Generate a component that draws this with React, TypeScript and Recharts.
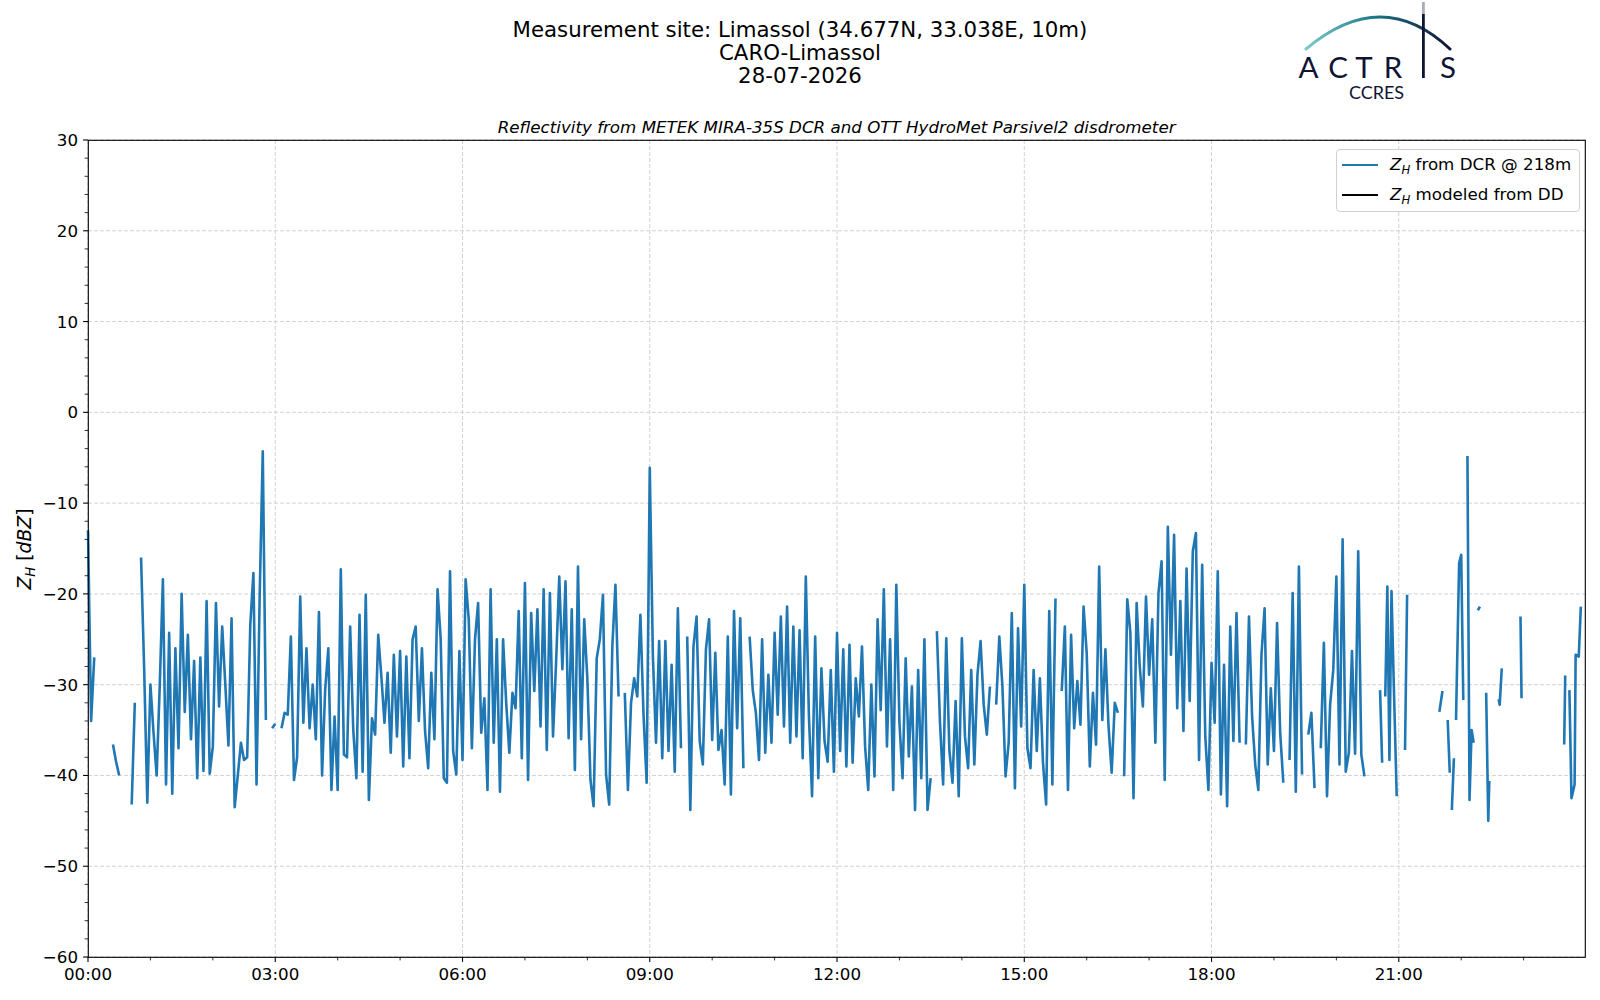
import React from 'react'
import { LineChart, Line, XAxis, YAxis, CartesianGrid } from 'recharts'

// Z_H from the DCR @ 218 m, one value every 3 minutes, null = no data.
// One array per hour of the day.
const STEP = 3
const h00 = [-13, -34, -27, null, null, null, null, null, -36.6, -38.5, -40, null, null, null, -43.2, -32, null, -16, -28.3, -43]
const h01 = [-30, -35.3, -40, -30, -18.4, -41, -24.3, -42, -26, -37, -20, -33, -24.5, -36, -27.4, -40.3, -27, -39.5, -20.8, -39.8]
const h02 = [-36.8, -21, -32.4, -23.6, -30, -36.7, -22.7, -43.5, -40, -36.4, -38.3, -38, -23.4, -17.7, -41, -20.4, -4.3, -33.9, null, -34.8]
const h03 = [-34.3, null, -34.8, -33.1, -33.3, -24.7, -40.5, -38, -20.3, -34.2, -26, -34.8, -30, -36, -22, -40, -30.5, -26, -41.6, -33.5]
const h04 = [-41.6, -17.3, -37.7, -38, -23.6, -35, -40.3, -22.3, -39.6, -20.1, -42.7, -33.7, -35.5, -24.5, -29.1, -34.2, -28.7, -37.5, -26.7, -35.7]
const h05 = [-26.3, -39, -26.9, -38.1, -25, -23.6, -34, -26, -35.1, -39.2, -28.7, -36, -19.5, -24.9, -40.3, -40.8, -17.5, -37.3, -39.9, -26.3]
const h06 = [-38.3, -18.4, -22.8, -37, -25, -21, -35.3, -31.5, -41.6, -19.5, -36.4, -25, -41.8, -25, -32, -37.5, -30.9, -32.6, -21.9, -38.1]
const h07 = [-18.8, -40.5, -22.1, -30.7, -21.7, -34.6, -19.5, -37.2, -19.9, -35.7, -27.4, -18.1, -28.3, -18.6, -35.9, -21.7, -39.4, -17, -36, -22.8]
const h08 = [-29.3, -40.5, -43.4, -27.1, -25, -20.1, -39.9, -43.2, -25.8, -19, -31.3, null, -30.9, -41.6, -32, -29.3, -31.3, -22.3, -33.3, -40.8]
const h09 = [-6.1, -26.9, -36.4, -25.2, -38.1, -25.2, -37.3, -27.8, -39.6, -21.6, -37, null, -24.7, -43.8, -25.8, -22.5, -36.2, -38.8, -26.1, -22.8]
const h10 = [-36.1, -26.5, -37.2, -35, -41, -24.7, -42.1, -21.9, -34.8, -22.7, -39.2, null, -24.7, -30.6, -33.1, -38.3, -25, -37.5, -28.9, -36.4]
const h11 = [-24.3, -33.3, -22.5, -34.6, -21.4, -36.4, -23.6, -35.7, -24, -38.1, -18.1, -33.5, -42.3, -24.7, -40.3, -28.2, -36.2, -38.5, -28.4, -39.6]
const h12 = [-24.3, -37.3, -26.1, -39, -25.6, -38.6, -29.3, -33.5, -25.8, -36.8, -41.6, -30, -40.1, -22.8, -32.8, -19.5, -36.8, -25, -41.6, -19]
const h13 = [-34.2, -40.3, -27.1, -37.9, -30.2, -43.8, -28.4, -40.3, -25, -43.8, -40.3, null, -24.1, -34.2, -41, -24.9, -37.2, -40.8, -31.8, -42.3]
const h14 = [-24.9, -35.7, -39.2, -28.4, -38.8, -28.9, -25.2, -32.2, -35.5, -30.2, null, -32.2, -24.7, -30.2, -40.1, -36.4, -22.1, -41.4, -23.8, -34.6]
const h15 = [-19, -37, -39.2, -28.4, -37.3, -29.3, -38.6, -43.2, -21.9, -41, -20.5, null, -30.7, -23.6, -41.6, -24.5, -34.8, -29.6, -34.4, -21.4]
const h16 = [-26.5, -39, -30.9, -36.6, -17, -33.9, -26.1, -34.6, -39.7, -32, -33.1, null, -40.1, -20.6, -24.3, -42.5, -21, -28, -32.4, -20.3]
const h17 = [-28.9, -22.8, -36.4, -19.9, -16.4, -40.5, -12.6, -26.7, -13.5, -32.6, -20.8, -35.1, -17.2, -31.8, -15.3, -13.3, -38.3, -16.8, -35.7, -41.6]
const h18 = [-27.6, -34.2, -17.5, -42.1, -27.8, -43.4, -23.6, -36.2, -22.1, -36.4, null, -36.6, -22.5, -33.5, -38.8, -41.6, -26.7, -21.6, -38.8, -30.4]
const h19 = [-37.3, -23.2, -35.3, -40.8, null, -38.3, -19.9, -41.8, -17, -39.9, null, -35.5, -33.1, -41.4, null, -37, -25.4, -42.3, -32.2, -28.4]
const h20 = [-18.1, -38.8, -14, -39.6, -37.5, -26.3, -37.6, -15.3, -37.7, -40.1]

// after 20:30 the record is patchy: minutes and values given one by one
const tailMinutes = [1230, 1242, 1244, 1245, 1247, 1249, 1251, 1253, 1255, 1258, 1259, 1266, 1268, 1269,
  1299, 1302, 1304, 1307, 1309, 1310, 1311, 1313, 1314, 1315, 1318, 1320, 1322, 1324,
  1326, 1328, 1330, 1332, 1334, 1336, 1338, 1340, 1344, 1346, 1347, 1349,
  1356, 1357, 1359, 1361, 1377, 1378, 1380, 1419, 1420, 1422,
  1424, 1426, 1427, 1429, 1430, 1433, 1435]
const tailZ = [null, -30.6, -38.6, null, -31.3, -19.2, -38.3, -19.7, -29.1, -42.3, null, -37.2, -20.1, null,
  -33, -30.7, null, -33.9, -39.7, null, -43.8, -38.1, null, -33.9, -16.6, -15.7, -31.7, null,
  -4.8, -42.7, -35, -36.4, null, -21.8, -21.4, null, -30.9, -45, -40.6, null,
  -31.6, -32.2, -28.2, null, -22.5, -31.5, null, -36.6, -29, null,
  -30.6, -42.5, -42, -41, -26.7, -26.9, -21.4]

const hours = [h00, h01, h02, h03, h04, h05, h06, h07, h08, h09, h10, h11, h12, h13, h14, h15, h16, h17, h18, h19, h20]

const xMajor = [0, 180, 360, 540, 720, 900, 1080, 1260]
const yMajor = [-60, -50, -40, -30, -20, -10, 0, 10, 20, 30]

type Row = { t: number; z: number | null; dd: number | null }

const data: Row[] = []
hours.forEach((vals, h) => {
  vals.forEach((z, i) => data.push({ t: h * 60 + i * STEP, z, dd: null }))
})
tailMinutes.forEach((t, i) => data.push({ t, z: tailZ[i], dd: null }))

const xTicks: number[] = []
for (let m = 0; m < 1440; m += 60) xTicks.push(m)
const yTicks: number[] = []
for (let v = -60; v <= 30; v += 2) yTicks.push(v)

const FONT = 'DejaVu Sans'
const BLUE = '#1f77b4'
const NAVY = '#0f1434'

const hhmm = (m: number) => String(Math.floor(m / 60)).padStart(2, '0') + ':00'
const num = (v: number) => (v < 0 ? '\u2212' + Math.abs(v) : String(v))

function XTick(props: any) {
  const { x, y, payload } = props
  const major = payload.value % 180 === 0
  return (
    <g>
      <line x1={x} x2={x} y1={y} y2={y + (major ? 4.9 : 3.4)} stroke="#000" strokeWidth={major ? 1.1 : 0.8} />
      {major && (
        <text x={x} y={y + 23} textAnchor="middle" fontSize={16.7} fontFamily={FONT} fill="#000">
          {hhmm(payload.value)}
        </text>
      )}
    </g>
  )
}

function YTick(props: any) {
  const { x, y, payload } = props
  const major = payload.value % 10 === 0
  return (
    <g>
      <line x1={x} x2={x - (major ? 4.9 : 3.4)} y1={y} y2={y} stroke="#000" strokeWidth={major ? 1.1 : 0.8} />
      {major && (
        <text x={x - 10} y={y} dy="0.36em" textAnchor="end" fontSize={16.7} fontFamily={FONT} fill="#000">
          {num(payload.value)}
        </text>
      )}
    </g>
  )
}

function Titles() {
  return (
    <svg width={1600} height={1000} style={{ position: 'absolute', left: 0, top: 0, pointerEvents: 'none' }}>
      <g fontFamily={FONT} fill="#000" textAnchor="middle" fontSize={21.3}>
        <text x={800} y={36.7}>Measurement site: Limassol (34.677N, 33.038E, 10m)</text>
        <text x={800} y={60}>CARO-Limassol</text>
        <text x={800} y={82.7}>28-07-2026</text>
      </g>
      <text x={836.6} y={133} textAnchor="middle" fontFamily={FONT} fontStyle="italic" fontSize={16.7}>
        Reflectivity from METEK MIRA-35S DCR and OTT HydroMet Parsivel2 disdrometer
      </text>
      <text transform="translate(31 549) rotate(-90)" textAnchor="middle" fontFamily={FONT} fontSize={18.8}>
        <tspan fontStyle="italic">Z</tspan>
        <tspan fontStyle="italic" fontSize={13.2} dy={3.5}>H</tspan>
        <tspan dy={-3.5}> [</tspan>
        <tspan fontStyle="italic">dBZ</tspan>
        <tspan>]</tspan>
      </text>
      <rect x={88.3} y={140.3} width={1497} height={817} fill="none" stroke="#000" strokeWidth={1.1} />
    </svg>
  )
}

// ACTRIS / CCRES logo, drawn in its own box at the top right
function Logo() {
  return (
    <svg
      width={200} height={105} viewBox="1280 0 200 105"
      style={{ position: 'absolute', left: 1280, top: 0, zIndex: 5, pointerEvents: 'none' }}
    >
      <defs>
        <linearGradient id="actrisArc" x1="1306" y1="0" x2="1450" y2="0" gradientUnits="userSpaceOnUse">
          <stop offset="0" stopColor="#7ccaca" />
          <stop offset="0.45" stopColor="#1f7d8c" />
          <stop offset="1" stopColor={NAVY} />
        </linearGradient>
      </defs>
      <path d="M1306 49 Q1382 -15 1450 49" fill="none" stroke="url(#actrisArc)" strokeWidth={3} strokeLinecap="round" />
      <g fontFamily="Lato" fontSize={29.5} fill={NAVY} textAnchor="middle">
        <text x={1308.5} y={78}>A</text>
        <text x={1338} y={78}>C</text>
        <text x={1364} y={78}>T</text>
        <text x={1393} y={78}>R</text>
        <text x={1448} y={78}>S</text>
      </g>
      <line x1={1423.4} x2={1423.4} y1={2} y2={14} stroke={NAVY} strokeWidth={2.8} opacity={0.35} />
      <line x1={1423.4} x2={1423.4} y1={14} y2={78} stroke={NAVY} strokeWidth={2.8} />
      <text x={1376.5} y={99} textAnchor="middle" fontFamily="Lato" fontSize={18} fill={NAVY}>CCRES</text>
    </svg>
  )
}

function LegendBox() {
  const row = (color: string, rest: string, top: number) => (
    <div style={{ position: 'absolute', left: 0, top, height: 30, display: 'flex', alignItems: 'center' }}>
      <div style={{ width: 36, height: 2.3, background: color, marginLeft: 5, marginRight: 12 }} />
      <span style={{ fontFamily: FONT, fontSize: 16.7, whiteSpace: 'nowrap' }}>
        <i>Z</i>
        <sub style={{ fontSize: 11.7, fontStyle: 'italic', verticalAlign: -4 }}>H</sub>
        {rest}
      </span>
    </div>
  )
  return (
    <div
      style={{
        position: 'absolute', left: 1336, top: 149, width: 244, height: 63, boxSizing: 'border-box',
        border: '1px solid #d0d0d0', borderRadius: 4, background: 'rgba(255,255,255,0.8)',
      }}
    >
      {row(BLUE, ' from DCR @ 218m', 0)}
      {row('#000', ' modeled from DD', 30)}
    </div>
  )
}

export default function App() {
  return (
    <div style={{ position: 'absolute', left: 0, top: 0, width: 1600, height: 1000, background: '#fff' }}>
      <LineChart width={1600} height={1000} data={data} margin={{ top: 140, right: 15, bottom: 0, left: 0 }}>
        <CartesianGrid stroke="#d3d3d3" strokeDasharray="4 2" horizontalValues={yMajor} verticalValues={xMajor} />
        <XAxis
          dataKey="t" type="number" domain={[0, 1439]} ticks={xTicks} interval={0} height={43}
          axisLine={false} tickLine={false} tickSize={0} tickMargin={0} tick={<XTick />}
        />
        <YAxis
          type="number" domain={[-60, 30]} ticks={yTicks} interval={0} width={88} allowDataOverflow
          axisLine={false} tickLine={false} tickSize={0} tickMargin={0} tick={<YTick />}
        />
        <Line dataKey="z" stroke={BLUE} strokeWidth={2.6} dot={false} activeDot={false} strokeLinejoin="round" isAnimationActive={false} />
        <Line dataKey="dd" stroke="#000" strokeWidth={2.1} dot={false} activeDot={false} isAnimationActive={false} />
      </LineChart>
      <Titles />
      <LegendBox />
      <Logo />
    </div>
  )
}
